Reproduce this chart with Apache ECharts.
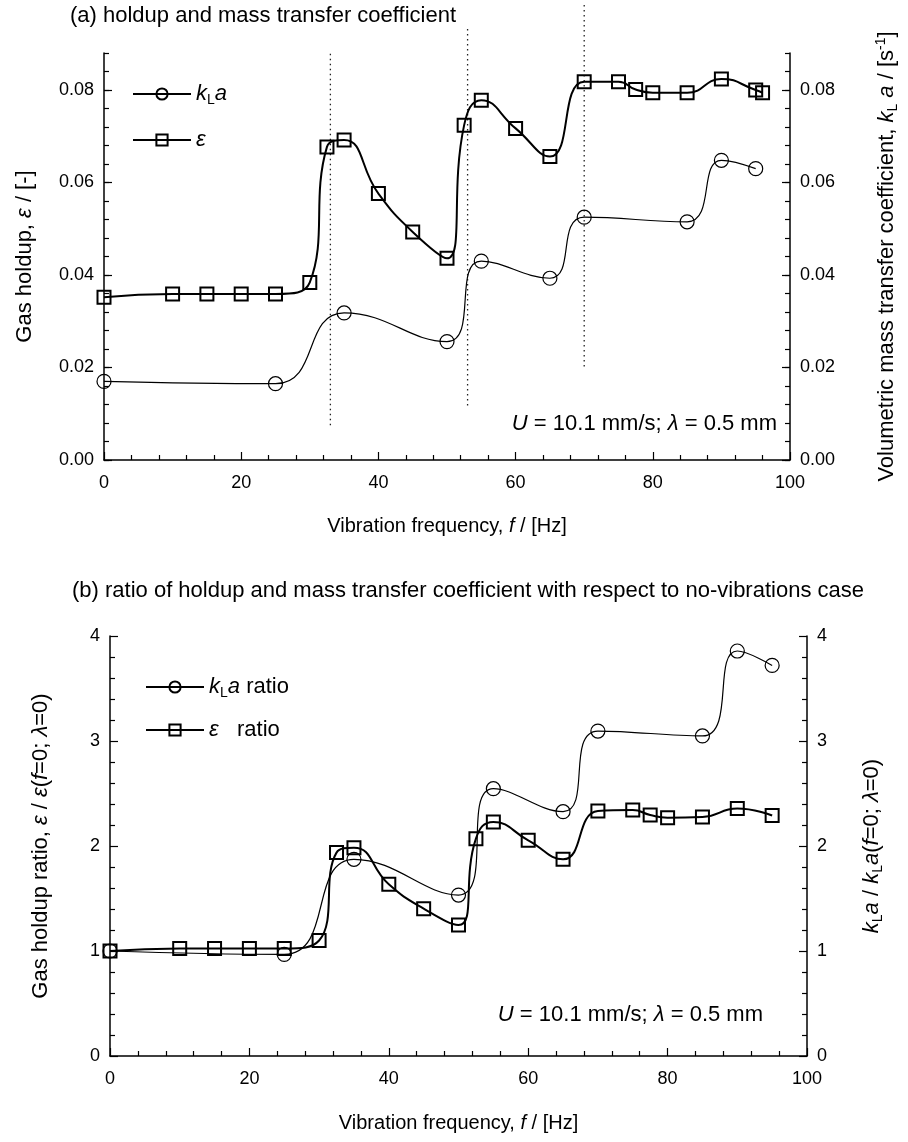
<!DOCTYPE html>
<html>
<head>
<meta charset="utf-8">
<script src="https://cdn.jsdelivr.net/npm/echarts@6/dist/echarts.min.js"></script>
<style>
  html, body { margin: 0; padding: 0; background: #fff; }
  #chart { width: 908px; height: 1142px; }
</style>
</head>
<body>
<div id="chart"></div>
<script>
// panel (a): holdup (squares) and kLa (circles) vs vibration frequency
const freqHoldup = [0, 10, 15, 20, 25, 30, 32.5, 35, 40, 45, 50, 52.5, 55, 60, 65, 70, 75, 77.5, 80, 85, 90, 95, 96];
const holdup = [0.0352, 0.0359, 0.0359, 0.0359, 0.0359, 0.0384, 0.0677, 0.0692, 0.0576, 0.0493, 0.0436, 0.0724, 0.0778, 0.0717, 0.0656, 0.0818, 0.0818, 0.0801, 0.0794, 0.0794, 0.0824, 0.0800, 0.0794];
const freqKla = [0, 25, 35, 50, 55, 65, 70, 85, 90, 95];
const kla = [0.0170, 0.0165, 0.0318, 0.0256, 0.0430, 0.0393, 0.0525, 0.0515, 0.0648, 0.0630];

// dotted guide lines in panel (a)
const guideFreq = [33, 53, 70];
const guideLow = [0.0075, 0.0118, 0.0202];
const guideHigh = [0.088, 0.0934, 0.0988];

// panel (b): ratios to the no-vibration case
const freqHoldupRatio = [0, 10, 15, 20, 25, 30, 32.5, 35, 40, 45, 50, 52.5, 55, 60, 65, 70, 75, 77.5, 80, 85, 90, 95];
const holdupRatio = [1.0, 1.025, 1.025, 1.025, 1.025, 1.10, 1.937, 1.984, 1.635, 1.403, 1.248, 2.07, 2.229, 2.054, 1.873, 2.333, 2.343, 2.295, 2.27, 2.276, 2.356, 2.29];
const klaRatio = [1.0, 0.968, 1.873, 1.533, 2.546, 2.327, 3.095, 3.048, 3.857, 3.72];

const FONT = '"Liberation Sans", Arial, Helvetica, sans-serif';
const zip = (xs, ys) => xs.map((x, i) => [x, ys[i]]);

function makeRich(size) {
  const lh = size + 4, small = Math.round(size * 0.65);
  return {
    n: { fontSize: size, lineHeight: lh, fontFamily: FONT, color: '#000' },
    i: { fontSize: size, lineHeight: lh, fontStyle: 'italic', fontFamily: FONT, color: '#000' },
    s: { fontSize: small, lineHeight: small, verticalAlign: 'bottom', fontFamily: FONT, color: '#000' },
    p: { fontSize: small, lineHeight: small, verticalAlign: 'top', fontFamily: FONT, color: '#000' }
  };
}
const rich20 = makeRich(20);
const rich22 = makeRich(22);

const axisLine = { show: true, lineStyle: { color: '#000', width: 1.5 } };
const tickLine = { color: '#000', width: 1.2 };

function xAxisFor(gridIndex, nameGap) {
  return {
    type: 'value', gridIndex, min: 0, max: 100, interval: 20,
    axisLine,
    axisTick: { inside: true, length: 8, lineStyle: tickLine },
    minorTick: { show: true, splitNumber: 5, length: 5, lineStyle: tickLine },
    splitLine: { show: false },
    axisLabel: { fontSize: 18, color: '#000', fontFamily: FONT, margin: 14 },
    name: '{n|Vibration frequency, }{i|f}{n| / [Hz]}',
    nameLocation: 'middle', nameGap,
    nameTextStyle: { rich: rich20 }
  };
}

// major axis carries line, labels and long ticks; minor one only short ticks
function yMajor(gridIndex, position, max, interval, fmt, name, nameGap) {
  return {
    type: 'value', gridIndex, position, min: 0, max, interval,
    axisLine,
    axisTick: { inside: true, length: 8, lineStyle: tickLine },
    splitLine: { show: false },
    axisLabel: { fontSize: 18, color: '#000', fontFamily: FONT, margin: 10, formatter: fmt, showMaxLabel: max % interval === 0 },
    name, nameLocation: 'middle', nameRotate: 90, nameGap,
    nameTextStyle: { rich: rich22 }
  };
}
function yMinor(gridIndex, position, max, interval) {
  return {
    type: 'value', gridIndex, position, min: 0, max, interval,
    axisLine: { show: false },
    axisTick: { inside: true, length: 5, lineStyle: tickLine },
    splitLine: { show: false },
    axisLabel: { show: false }
  };
}

const fmt2 = v => v.toFixed(2);
const fmt0 = v => String(Math.round(v));

const squareStyle = {
  symbol: 'rect', symbolSize: 13,
  lineStyle: { color: '#000', width: 2 },
  itemStyle: { color: 'rgba(0,0,0,0)', borderColor: '#000', borderWidth: 2 }
};
const circleStyle = {
  symbol: 'circle', symbolSize: 14,
  lineStyle: { color: '#000', width: 1.2 },
  itemStyle: { color: 'rgba(0,0,0,0)', borderColor: '#000', borderWidth: 1.2 }
};

const guideSeries = guideFreq.map((f, i) => ({
  type: 'line', xAxisIndex: 0, yAxisIndex: 0, clip: false, silent: true,
  symbol: 'none', data: [[f, guideLow[i]], [f, guideHigh[i]]],
  lineStyle: { color: '#222', width: 1.3, type: [1.5, 3.5] }
}));

const minor5 = { show: true, splitNumber: 5, length: 5, lineStyle: tickLine };
const note = '{i|U}{n| = 10.1 mm/s; }{i|λ}{n| = 0.5 mm}';

const option = {
  animation: false,
  backgroundColor: '#fff',
  textStyle: { fontFamily: FONT },
  title: [
    { text: '(a) holdup and mass transfer coefficient', left: 70, top: 5, padding: 0,
      textStyle: { fontSize: 22, fontWeight: 'normal', color: '#000', fontFamily: FONT } },
    { text: '(b) ratio of holdup and mass transfer coefficient with respect to no-vibrations case', left: 72, top: 580, padding: 0,
      textStyle: { fontSize: 22, fontWeight: 'normal', color: '#000', fontFamily: FONT } }
  ],
  grid: [
    { left: 104, right: 105, top: 53, height: 407 },
    { left: 110, right: 101, top: 636, height: 420 }
  ],
  legend: [
    { data: ['kLa', 'eps'], orient: 'vertical', left: 127, top: 78, itemWidth: 58, itemHeight: 14, itemGap: 22,
      selectedMode: false,
      formatter: n => n === 'kLa' ? '{i|k}{s|L}{i|a}' : '{i|ε}',
      textStyle: { rich: rich22 } },
    { data: ['kLa ratio', 'eps ratio'], orient: 'vertical', left: 140, top: 671, itemWidth: 58, itemHeight: 14, itemGap: 19,
      selectedMode: false,
      formatter: n => n === 'kLa ratio' ? '{i|k}{s|L}{i|a}{n| ratio}' : '{i|ε}{n|   ratio}',
      textStyle: { rich: rich22 } }
  ],
  xAxis: [xAxisFor(0, 54), xAxisFor(1, 55)],
  yAxis: [
    yMajor(0, 'left', 0.088, 0.02, fmt2, '{n|Gas holdup, }{i|ε}{n| / [-]}', 66),
    yMinor(0, 'left', 0.088, 0.004),
    yMajor(0, 'right', 0.088, 0.02, fmt2,
      '{n|Volumetric mass transfer coefficient, }{i|k}{s|L}{i| a}{n| / [s}{p|-1}{n|]}', 84),
    yMinor(0, 'right', 0.088, 0.004),
    Object.assign(yMajor(1, 'left', 4, 1, fmt0, '{n|Gas holdup ratio, }{i|ε}{n| / }{i|ε}{n|(}{i|f}{n|=0; }{i|λ}{n|=0)}', 56),
      { minorTick: minor5 }),
    Object.assign(yMajor(1, 'right', 4, 1, fmt0, '{i|k}{s|L}{i|a}{n| / }{i|k}{s|L}{i|a}{n|(}{i|f}{n|=0; }{i|λ}{n|=0)}', 52),
      { minorTick: minor5 })
  ],
  graphic: [
    { type: 'text', right: 131, top: 413, style: { text: note, rich: rich22 } },
    { type: 'text', right: 145, top: 1004, style: { text: note, rich: rich22 } }
  ],
  series: [
    ...guideSeries,
    Object.assign({ name: 'kLa', type: 'line', xAxisIndex: 0, yAxisIndex: 2, smooth: 0.5, z: 3,
      data: zip(freqKla, kla) }, circleStyle),
    Object.assign({ name: 'eps', type: 'line', xAxisIndex: 0, yAxisIndex: 0, smooth: 0.5, z: 4,
      data: zip(freqHoldup, holdup) }, squareStyle),
    Object.assign({ name: 'kLa ratio', type: 'line', xAxisIndex: 1, yAxisIndex: 5, smooth: 0.5, z: 3,
      data: zip(freqKla, klaRatio) }, circleStyle),
    Object.assign({ name: 'eps ratio', type: 'line', xAxisIndex: 1, yAxisIndex: 4, smooth: 0.5, z: 4,
      data: zip(freqHoldupRatio, holdupRatio) }, squareStyle)
  ]
};

const chart = echarts.init(document.getElementById('chart'), null, { renderer: 'canvas' });
chart.setOption(option);
</script>
</body>
</html>
